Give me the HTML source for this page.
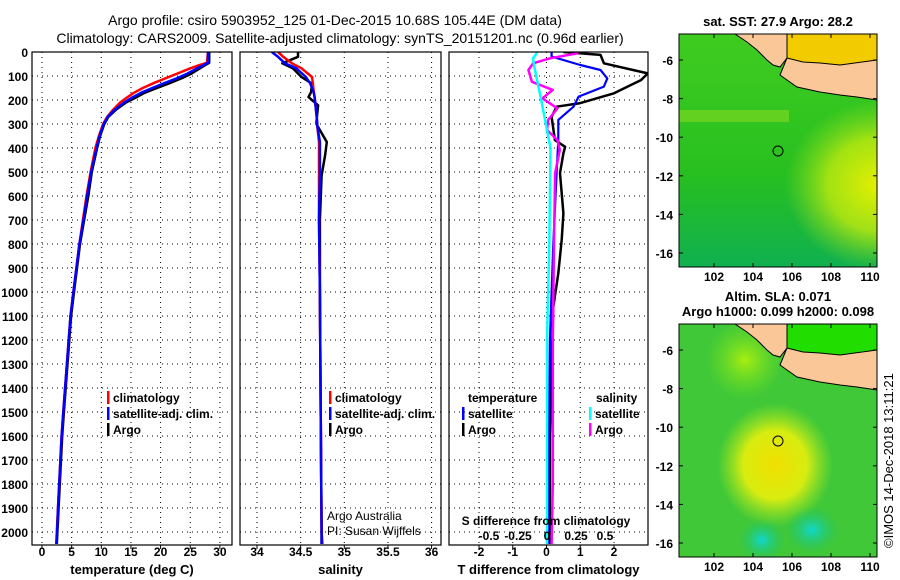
<!DOCTYPE html>
<html><head><meta charset="utf-8"><style>
html,body{margin:0;padding:0;background:#fff}
svg{display:block;font-family:"Liberation Sans",sans-serif}
.tk{font-size:12px;font-weight:bold}
.tl{font-size:13px;font-weight:bold}
</style></head><body>
<svg id="fig" width="900" height="580" viewBox="0 0 900 580">
<defs>
 <radialGradient id="sstYellow" cx="0.5" cy="0.5" r="0.5"><stop offset="0" stop-color="#e8f000"/><stop offset="0.55" stop-color="#b8e810" stop-opacity="0.85"/><stop offset="1" stop-color="#90dd20" stop-opacity="0"/></radialGradient>
 <linearGradient id="sstBase" x1="0" y1="0" x2="0" y2="1"><stop offset="0" stop-color="#40cc20"/><stop offset="0.6" stop-color="#28c020"/><stop offset="1" stop-color="#10b050"/></linearGradient>
 <radialGradient id="slaYellow" cx="0.5" cy="0.5" r="0.5"><stop offset="0" stop-color="#f0e000"/><stop offset="0.55" stop-color="#d8ec10"/><stop offset="1" stop-color="#a8e820" stop-opacity="0"/></radialGradient>
 <radialGradient id="slaCyan" cx="0.5" cy="0.5" r="0.5"><stop offset="0" stop-color="#10d8d0"/><stop offset="1" stop-color="#20c060" stop-opacity="0"/></radialGradient>
 <radialGradient id="slaLight" cx="0.5" cy="0.5" r="0.5"><stop offset="0" stop-color="#a8ee10"/><stop offset="1" stop-color="#70e020" stop-opacity="0"/></radialGradient>
 <clipPath id="c1"><rect x="32" y="52" width="200" height="493"/></clipPath>
 <clipPath id="c2"><rect x="240" y="52" width="201" height="493"/></clipPath>
 <clipPath id="c3"><rect x="449" y="52" width="199" height="493"/></clipPath>
 <clipPath id="cm1"><rect x="679" y="34" width="198" height="233"/></clipPath>
 <clipPath id="cm2"><rect x="679" y="324" width="198" height="233"/></clipPath>
</defs>
<text x="335" y="25" text-anchor="middle" font-size="14">Argo profile: csiro 5903952_125 01-Dec-2015 10.68S 105.44E (DM data)</text>
<text x="340" y="43" text-anchor="middle" font-size="14">Climatology: CARS2009. Satellite-adjusted climatology: synTS_20151201.nc (0.96d earlier)</text>
<g id="g1"></g>
<g id="g2"></g>
<g id="g3"></g>
<g id="maps">
 <text x="778" y="26" text-anchor="middle" class="tl">sat. SST: 27.9 Argo: 28.2</text>
 <g clip-path="url(#cm1)">
  <rect x="679" y="34" width="198" height="233" fill="url(#sstBase)"/>
  <ellipse cx="880" cy="185" rx="95" ry="85" fill="url(#sstYellow)"/>
  <rect x="679" y="110" width="110" height="12" fill="#a0e020" opacity="0.45"/>
  <rect x="787" y="34" width="90" height="40" fill="#f2cc00"/>
  <path d="M735,34 L787,34 L787,58 L780,67 L773,65 L767,60 L757,50 L747,42 Z" fill="#fac898" stroke="#000" stroke-width="1"/>
  <path d="M787,58 L803,62 L820,63 L840,65 L877,60 L877,100 L857,97 L840,95 L820,92 L797,87 L787,80 L780,75 Z" fill="#fac898" stroke="#000" stroke-width="1"/>
  <circle cx="778" cy="151" r="5" fill="none" stroke="#000"/>
 </g>
 <rect x="679" y="34" width="198" height="233" fill="none" stroke="#000"/>
 <text x="778" y="301" text-anchor="middle" class="tl">Altim. SLA: 0.071</text>
 <text x="778" y="316" text-anchor="middle" class="tl">Argo h1000: 0.099 h2000: 0.098</text>
 <g clip-path="url(#cm2)">
  <rect x="679" y="324" width="198" height="233" fill="#40c838"/>
  <ellipse cx="745" cy="360" rx="40" ry="40" fill="url(#slaLight)"/>
  <ellipse cx="775" cy="465" rx="58" ry="62" fill="url(#slaYellow)"/>
  <ellipse cx="812" cy="530" rx="28" ry="24" fill="url(#slaCyan)"/>
  <ellipse cx="762" cy="540" rx="24" ry="22" fill="url(#slaCyan)"/>
  <rect x="787" y="324" width="90" height="50" fill="#22dd00"/>
  <path d="M735,324 L787,324 L787,348 L780,357 L773,355 L767,350 L757,340 L747,332 Z" fill="#fac898" stroke="#000" stroke-width="1"/>
  <path d="M787,348 L803,352 L820,353 L840,355 L877,350 L877,390 L857,387 L840,385 L820,382 L797,377 L787,370 L780,365 Z" fill="#fac898" stroke="#000" stroke-width="1"/>
  <circle cx="778" cy="441" r="5" fill="none" stroke="#000"/>
 </g>
 <rect x="679" y="324" width="198" height="233" fill="none" stroke="#000"/>
 <text transform="translate(893,548) rotate(-90)" font-size="13">©IMOS 14-Dec-2018 13:11:21</text>
</g>
</svg>
<script>
// ---- data ----
const depthTicks=[0,100,200,300,400,500,600,700,800,900,1000,1100,1200,1300,1400,1500,1600,1700,1800,1900,2000];
const tempTicks=[0,5,10,15,20,25,30];
const salTicks=[34,34.5,35,35.5,36];
const salTickLabels=["34","34.5","35","35.5","36"];
const tdiffTicks=[-2,-1,0,1,2];
const sdiffTicks=[-0.5,-0.25,0,0.25,0.5];
const sdiffTickLabels=["-0.5","-0.25","0","0.25","0.5"];
const tDepth=[0,45,55,70,90,110,130,150,170,190,210,240,270,300,350,400,500,600,700,800,900,1000,1100,1200,1300,1400,1500,1600,1700,1800,1900,2000,2050];
const tArgo=[28.2,28.2,27.5,26.5,25.2,23.5,21.5,19.4,17.3,15.8,14.2,12.5,11.2,10.5,9.8,9.3,8.4,7.8,7.1,6.4,5.9,5.4,4.9,4.6,4.3,4.0,3.7,3.4,3.2,3.0,2.8,2.6,2.5];
const tClim=[28.0,27.8,26.5,24.8,22.8,20.8,18.8,17.0,15.5,14.3,13.2,12.0,11.0,10.3,9.6,9.0,8.2,7.5,6.9,6.3,5.8,5.3,4.8,4.5,4.2,3.9,3.6,3.3,3.1,2.9,2.7,2.5,2.4];
const tSat=[28.0,28.0,27.2,26.0,24.5,22.7,20.6,18.6,16.7,15.2,13.9,12.3,11.1,10.4,9.7,9.2,8.3,7.6,7.0,6.3,5.8,5.3,4.8,4.5,4.2,3.9,3.6,3.3,3.1,2.9,2.7,2.55,2.45];
const sDepth=[0,20,47,68,104,132,167,188,222,292,306,375,431,514,700,1000,1500,2000,2050];
const sArgo=[34.47,34.47,34.29,34.41,34.51,34.63,34.62,34.59,34.70,34.68,34.69,34.80,34.78,34.74,34.72,34.72,34.73,34.74,34.74];
const sClim=[34.24,34.30,34.40,34.51,34.63,34.64,34.65,34.66,34.67,34.69,34.69,34.71,34.71,34.71,34.71,34.72,34.73,34.74,34.75];
const sSat=[34.17,34.24,34.32,34.45,34.56,34.61,34.65,34.66,34.67,34.69,34.69,34.72,34.72,34.72,34.71,34.72,34.73,34.74,34.74];
const dtArgoDepth=[0,12,47,89,117,172,213,228,270,367,395,422,505,672,783,922,1062,1300,1600,2050];
const dtArgo=[0.5,1.6,1.7,3.0,2.8,2.0,1.0,0.3,0.15,0.25,0.55,0.5,0.4,0.5,0.45,0.35,0.2,0.15,0.1,0.1];
const dtSatDepth=[0,19,54,75,110,144,186,228,283,367,505,800,1200,2050];
const dtSat=[0.15,0.15,1.0,1.6,1.8,1.7,0.95,0.8,0.35,0.35,0.3,0.2,0.1,0.05];
const dsArgoDepth=[0,6,26,47,75,124,158,193,235,283,325,367,408,505,800,1200,1800,2050];
const dsArgo=[0.26,0.26,0.03,-0.12,-0.16,-0.13,0.05,-0.04,0.09,0.01,0.0,0.09,0.11,0.07,0.06,0.05,0.05,0.04];
const dsSatDepth=[0,6,26,60,200,400,800,1200,2050];
const dsSat=[-0.09,-0.09,-0.12,-0.11,-0.05,0.03,0.02,0.0,0.0];

// ---- axes ----
const Y=d=>52+d*0.24;
const xT=t=>42+t*5.93;
const xS=s=>257+(s-34)*87.3;
const xDT=v=>546.5+v*33.75;
const xDS=v=>547+v*116;
const NS="http://www.w3.org/2000/svg";
function mk(tag,parent,attrs){const e=document.createElementNS(NS,tag);for(const k in attrs)e.setAttribute(k,attrs[k]);parent.appendChild(e);return e;}
function line(parent,xs,ys,col,w,name){
  const p=mk('polyline',parent,{points:xs.map((x,i)=>x.toFixed(1)+','+ys[i].toFixed(1)).join(' '),fill:'none',stroke:col,'stroke-width':w,'stroke-linejoin':'round'});
  
  
}
function panel(g,x0,x1,clip,vticks,xf,labels,ly,title){
  const grid=mk('g',g,{stroke:'#000','stroke-width':1,'stroke-dasharray':'1,4'});
  
  
  depthTicks.forEach(d=>{mk('line',grid,{x1:x0,x2:x1,y1:Y(d),y2:Y(d)});});
  vticks.forEach(v=>{mk('line',grid,{x1:xf(v),x2:xf(v),y1:52,y2:545});});
  vticks.forEach((v,i)=>{const t=mk('text',g,{x:xf(v),y:ly,'text-anchor':'middle','class':'tk'});t.textContent=labels[i];
    
    
    mk('line',g,{x1:xf(v),x2:xf(v),y1:545,y2:549,stroke:'#000'});});
  const tt=mk('text',g,{x:(x0+x1)/2,y:574,'text-anchor':'middle','class':'tl'});tt.textContent=title;
  
  
  const cg=mk('g',g,{'clip-path':'url(#'+clip+')'});
  return cg;
}
function frame(g,x0,x1){const r=mk('rect',g,{x:x0,y:52,width:x1-x0,height:493,fill:'none',stroke:'#000','stroke-width':1.2});
  
  }
function legend(g,x,y,col,label,name){
  mk('rect',g,{x:x,y:y-11,width:2.5,height:13,fill:col});
  const t=mk('text',g,{x:x+6,y:y,'class':'tk'});t.textContent=label;
  
  
}
const g1=document.getElementById('g1'),g2=document.getElementById('g2'),g3=document.getElementById('g3');
depthTicks.forEach(d=>{const t=mk('text',g1,{x:28,y:Y(d)+5,'text-anchor':'end','class':'tk'});t.textContent=d;
  
  });
let c=panel(g1,32,232,'c1',tempTicks,xT,tempTicks.map(String),556,'temperature (deg C)');
line(c,tArgo.map(xT),tDepth.map(Y),'#000',2.5,'argo-temperature-line');
line(c,tClim.map(xT),tDepth.map(Y),'#f00',2.5,'climatology-temperature-line');
line(c,tSat.map(xT),tDepth.map(Y),'#00f',2.5,'satellite-temperature-line');
frame(g1,32,232);
legend(g1,107,402,'#f00','climatology','legend-climatology');
legend(g1,107,418,'#00f','satellite-adj. clim.','legend-satellite');
legend(g1,107,434,'#000','Argo','legend-argo');
c=panel(g2,240,441,'c2',salTicks,xS,salTickLabels,556,'salinity');
line(c,sArgo.map(xS),sDepth.map(Y),'#000',2.5,'argo-salinity-line');
line(c,sClim.map(xS),sDepth.map(Y),'#f00',2.5,'climatology-salinity-line');
line(c,sSat.map(xS),sDepth.map(Y),'#00f',2.5,'satellite-salinity-line');
frame(g2,240,441);
legend(g2,329,402,'#f00','climatology','legend-climatology');
legend(g2,329,418,'#00f','satellite-adj. clim.','legend-satellite');
legend(g2,329,434,'#000','Argo','legend-argo');
let t=mk('text',g2,{x:327,y:520,'font-size':12});t.textContent='Argo Australia';


t=mk('text',g2,{x:327,y:535,'font-size':12});t.textContent='PI: Susan Wijffels';


c=panel(g3,449,648,'c3',tdiffTicks,xDT,tdiffTicks.map(String),556,'T difference from climatology');
line(c,dtArgo.map(xDT),dtArgoDepth.map(Y),'#000',2.5,'argo-t-diff-line');
line(c,dtSat.map(xDT),dtSatDepth.map(Y),'#00f',2.2,'satellite-t-diff-line');
line(c,dsArgo.map(xDS),dsArgoDepth.map(Y),'#f0f',2.5,'argo-s-diff-line');
line(c,dsSat.map(xDS),dsSatDepth.map(Y),'#0ff',2.5,'satellite-s-diff-line');
frame(g3,449,648);
t=mk('text',g3,{x:468,y:402,'class':'tk'});t.textContent='temperature';


t=mk('text',g3,{x:596,y:402,'class':'tk'});t.textContent='salinity';


legend(g3,462,418,'#00f','satellite','legend-t-satellite');
legend(g3,462,434,'#000','Argo','legend-t-argo');
legend(g3,589,418,'#0ff','satellite','legend-s-satellite');
legend(g3,589,434,'#f0f','Argo','legend-s-argo');
t=mk('text',g3,{x:546,y:525,'text-anchor':'middle','class':'tk'});t.textContent='S difference from climatology';


sdiffTicks.forEach((v,i)=>{const e=mk('text',g3,{x:xDS(v),y:540,'text-anchor':'middle','class':'tk'});e.textContent=sdiffTickLabels[i];
  
  });
const lonTicks=[102,104,106,108,110],latTicks=[-6,-8,-10,-12,-14,-16];
const mapG=document.getElementById('maps');
[[34,267,60],[324,557,350]].forEach(([top,bot,y6])=>{
  lonTicks.forEach(l=>{const x=714+(l-102)*19.5;
    mk('line',mapG,{x1:x,x2:x,y1:bot,y2:bot-4,stroke:'#000'});
    mk('line',mapG,{x1:x,x2:x,y1:top,y2:top+4,stroke:'#000'});
    const e=mk('text',mapG,{x:x,y:bot+14,'text-anchor':'middle','class':'tk'});e.textContent=l;
    
    });
  latTicks.forEach(l=>{const y=y6+(-6-l)*19.3;
    mk('line',mapG,{x1:679,x2:683,y1:y,y2:y,stroke:'#000'});
    mk('line',mapG,{x1:877,x2:873,y1:y,y2:y,stroke:'#000'});
    const e=mk('text',mapG,{x:673,y:y+5,'text-anchor':'end','class':'tk'});e.textContent=l;
    
    });
});
</script>
</body></html>
